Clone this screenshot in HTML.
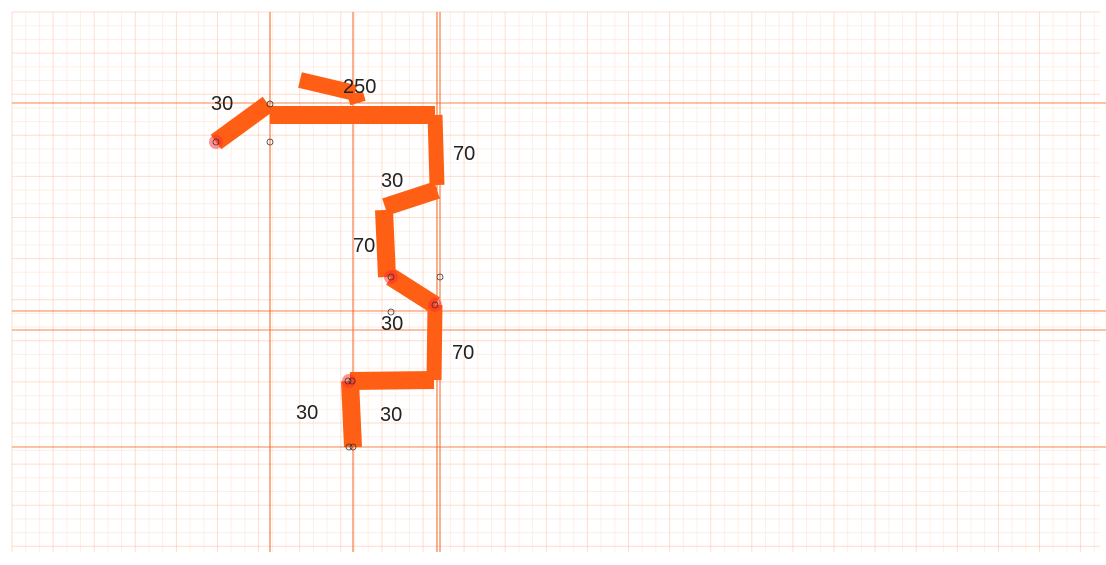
<!DOCTYPE html>
<html><head><meta charset="utf-8"><style>
html,body{margin:0;padding:0;background:#fff;}
svg{display:block;}
text{font-family:"Liberation Sans",sans-serif;font-size:20px;fill:#222;}
</style></head><body>
<svg id="c" width="1106" height="565"></svg>
<script>
const NS='http://www.w3.org/2000/svg';
const svg=document.getElementById('c');
// data
const segStartX=[216,270,435,437,384,391,435,434,350,300,355];
const segStartY=[142,115,115,190,210,277,305,380,381,80,93];
const segEndX=[268,435,437,385,387,435,434,350,353,355,358];
const segEndY=[104,115,185,207,277,305,380,381,447,93,103];
const labelText=['30','250','70','30','70','30','70','30','30'];
const labelX=[211,343,453,381,353,381,452,296,380];
const labelY=[110,93,160,187,252,330,359,419,421];
const majorVX=[270,353,437,440];
const majorHY=[103,311,330,447];
const nodeX=[216,270,270,391,440,391,435,348,352,349,353];
const nodeY=[142,104,142,277,277,312,305,381,381,447,447];
const hotX=[216,391,435,349];
const hotY=[142,277,305,381];

function el(t,a){const e=document.createElementNS(NS,t);for(const k in a)e.setAttribute(k,a[k]);svg.appendChild(e);return e;}
const X0=12,X1=1100,Y0=12,Y1=552,STEP=13.7;
for(let i=0;X0+i*STEP<=X1;i++){const x=X0+i*STEP;
 const l=el('line',{x1:x,y1:Y0,x2:x,y2:Y1,stroke:'#ff7a3d','stroke-width':1,'stroke-opacity':i%3===0?0.25:0.12});
 
 }
for(let i=0;Y0+i*STEP<=Y1;i++){const y=Y0+i*STEP;
 const l=el('line',{x1:X0,y1:y,x2:X1,y2:y,stroke:'#ff7a3d','stroke-width':1,'stroke-opacity':i%3===0?0.25:0.12});
 
 }
majorVX.forEach(x=>{const l=el('line',{x1:x,y1:Y0,x2:x,y2:Y1,stroke:'#f26522','stroke-width':1});
 
 });
majorHY.forEach(y=>{const l=el('line',{x1:X0,y1:y,x2:1106,y2:y,stroke:'#f26522','stroke-width':1,'stroke-opacity':0.8});
 
 });
segStartX.forEach((sx,i)=>{const w=(i===9||i===10)?16:(i===2||i===6)?15:18;
 const l=el('line',{x1:sx,y1:segStartY[i],x2:segEndX[i],y2:segEndY[i],stroke:'#ff5f15','stroke-width':w,'stroke-linecap':'butt'});
 
 });
hotX.forEach((x,i)=>{const c=el('circle',{cx:x,cy:hotY[i],r:7,fill:'#ff2a2a','fill-opacity':0.5});
 
 });
nodeX.forEach((x,i)=>{const c=el('circle',{cx:x,cy:nodeY[i],r:3,fill:'none',stroke:'#333','stroke-width':0.8});
 
 });
labelText.forEach((t,i)=>{const e=el('text',{x:labelX[i],y:labelY[i]});e.textContent=t;
 
 });
</script>
</body></html>
